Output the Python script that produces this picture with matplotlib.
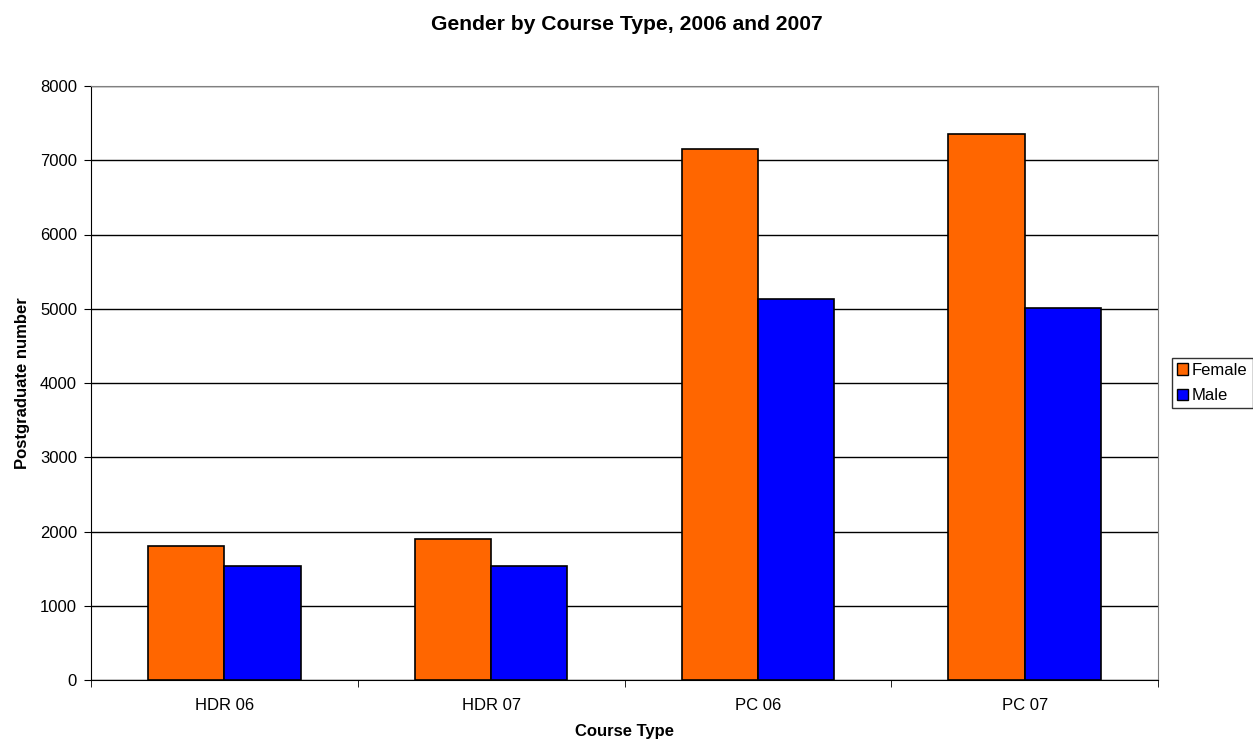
import numpy as np
import matplotlib
matplotlib.use('Agg')
import matplotlib.pyplot as plt
from matplotlib.patches import Patch

categories = ['HDR 06', 'HDR 07', 'PC 06', 'PC 07']
female = [1805, 1905, 7150, 7350]
male = [1535, 1535, 5130, 5010]

plt.rcParams['font.family'] = ['Liberation Sans', 'DejaVu Sans']

fig = plt.figure(figsize=(12.53, 7.45), dpi=100)
ax = fig.add_axes([91/1253, 1-680/745, (1158-91)/1253, (680-86)/745])

x = np.arange(len(categories))
w = 1/3.5
ax.bar(x - w/2, female, w, color='#FF6600', edgecolor='black', linewidth=1.2, zorder=3)
ax.bar(x + w/2, male, w, color='#0000FF', edgecolor='black', linewidth=1.2, zorder=3)

ax.set_xlim(-0.5, 3.5)
ax.set_ylim(0, 8000)
ax.set_yticks(range(0, 8001, 1000))
ax.yaxis.grid(True, color='black', linewidth=1)
ax.set_axisbelow(True)

ax.set_xticks(x)
ax.set_xticklabels(categories, fontsize=12)
ax.set_xticks(np.arange(-0.5, 4, 1), minor=True)
ax.tick_params(axis='x', which='major', length=0, pad=13)
ax.tick_params(axis='x', which='minor', length=5, direction='out')
ax.tick_params(axis='y', length=5, direction='out', labelsize=12, pad=5)

for s in ['top', 'right']:
    ax.spines[s].set_color('#808080')
for s in ['left', 'bottom']:
    ax.spines[s].set_color('black')

ax.set_xlabel('Course Type', fontsize=12, fontweight='bold', labelpad=8)
ax.set_ylabel('Postgraduate number', fontsize=12, fontweight='bold', labelpad=7)
fig.text(0.5, 1-25/745, 'Gender by Course Type, 2006 and 2007', ha='center', va='center',
         fontsize=15.2, fontweight='bold')

handles = [Patch(facecolor='#FF6600', edgecolor='black', label='Female'),
           Patch(facecolor='#0000FF', edgecolor='black', label='Male')]
leg = fig.legend(handles=handles, loc='center left', bbox_to_anchor=(1172/1253, 1-383/745),
                 frameon=True, fancybox=False, edgecolor='black', fontsize=12,
                 handlelength=0.65, handleheight=0.65, handletextpad=0.25,
                 borderpad=0.3, labelspacing=0.62, borderaxespad=0)
leg.get_frame().set_linewidth(1)

fig.savefig('out.png', dpi=100)
